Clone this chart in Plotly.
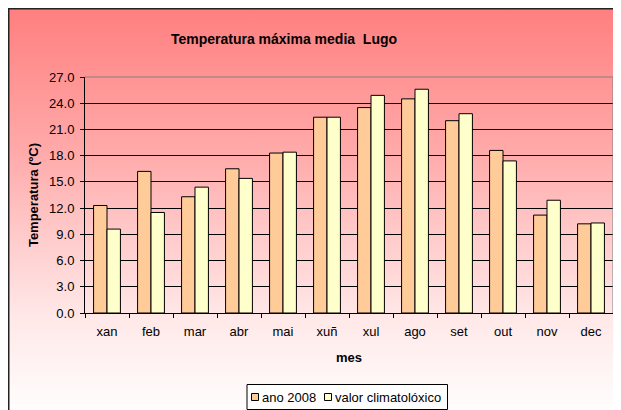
import base64
import plotly.graph_objects as go

meses = ["xan", "feb", "mar", "abr", "mai", "xuñ", "xul", "ago", "set", "out", "nov", "dec"]
ano_2008 = [12.3, 16.2, 13.3, 16.5, 18.3, 22.4, 23.5, 24.5, 22.0, 18.6, 11.2, 10.2]
valor_climatoloxico = [9.6, 11.5, 14.4, 15.4, 18.4, 22.4, 24.9, 25.6, 22.8, 17.4, 12.9, 10.3]
y_ticks = [0, 3, 6, 9, 12, 15, 18, 21, 24, 27]
series_names = ["ano 2008", "valor climatolóxico"]
series_colors = ["#FFCC99", "#FFFFCC"]

# the page body has an 8px margin, so the figure is the chart area itself
W, H = 613, 402
L, R, T, B = 77, 8, 69, 97
PW, PH = W - L - R, H - T - B

def px_x(px):
    return (px - L) / PW

def px_y(py):
    return (H - B - py) / PH

FONT = "Liberation Sans, Arial, sans-serif"

fig = go.Figure()
for name, vals, col in zip(series_names, [ano_2008, valor_climatoloxico], series_colors):
    fig.add_trace(go.Bar(
        x=meses, y=vals, name=name,
        marker=dict(color=col, line=dict(color="#000000", width=1)),
    ))

svg = (
    '<svg xmlns="http://www.w3.org/2000/svg" width="100" height="100" viewBox="0 0 100 100" preserveAspectRatio="none">'
    '<defs><linearGradient id="g" x1="0" y1="0" x2="0" y2="1">'
    '<stop offset="0" stop-color="#FF7F7F"/>'
    '<stop offset="0.35" stop-color="#FFAAAA"/>'
    '<stop offset="0.55" stop-color="#FFCACA"/>'
    '<stop offset="0.75" stop-color="#FFE8E8"/>'
    '<stop offset="0.92" stop-color="#FFF8F8"/>'
    '<stop offset="1" stop-color="#FFFFFF"/>'
    '</linearGradient></defs>'
    '<rect x="0" y="0" width="100" height="100" fill="url(#g)"/></svg>'
)
src = "data:image/svg+xml;base64," + base64.b64encode(svg.encode()).decode()

fig.add_layout_image(dict(
    source=src, xref="paper", yref="paper",
    x=px_x(0), y=px_y(0), sizex=W / PW, sizey=(H + 10) / PH,
    xanchor="left", yanchor="top", sizing="stretch", layer="below",
))

shapes = [
    # chart frame (top and left edges visible)
    dict(type="line", xref="paper", yref="paper", x0=px_x(0), x1=px_x(W), y0=px_y(0.75), y1=px_y(0.75),
         line=dict(color="#222222", width=1.5), layer="above"),
    dict(type="line", xref="paper", yref="paper", x0=px_x(0.75), x1=px_x(0.75), y0=px_y(0), y1=px_y(H),
         line=dict(color="#222222", width=1.5), layer="above"),
    # plot area border top / right
    dict(type="line", xref="paper", yref="paper", x0=0, x1=1, y0=1, y1=1,
         line=dict(color="#808080", width=1), layer="above"),
    dict(type="line", xref="paper", yref="paper", x0=1, x1=1, y0=0, y1=1,
         line=dict(color="#808080", width=1), layer="above"),
    # legend box
    dict(type="rect", xref="paper", yref="paper", x0=px_x(239), x1=px_x(439.5), y0=px_y(376.5), y1=px_y(401.5),
         line=dict(color="#000000", width=1), fillcolor="#FFFFFF", layer="above"),
]
annotations = []
leg_sq_x = [243, 316]
leg_txt_x = [252, 325]
for name, col, sx, tx in zip(series_names, series_colors, leg_sq_x, leg_txt_x):
    shapes.append(dict(type="rect", xref="paper", yref="paper",
                       x0=px_x(sx + 0.5), x1=px_x(sx + 7.5), y0=px_y(385.5), y1=px_y(392.5),
                       line=dict(color="#000000", width=1), fillcolor=col, layer="above"))
    annotations.append(dict(text=name, xref="paper", yref="paper", x=px_x(tx), y=px_y(389),
                            xanchor="left", yanchor="middle", showarrow=False,
                            font=dict(size=13, family=FONT, color="#000000")))

fig.update_layout(
    width=W, height=H,
    margin=dict(l=L, r=R, t=T, b=B, pad=0, autoexpand=False),
    paper_bgcolor="#FFFFFF",
    plot_bgcolor="rgba(0,0,0,0)",
    barmode="group", bargap=0.39, bargroupgap=0,
    showlegend=False,
    font=dict(family=FONT, size=13, color="#000000"),
    title=dict(text="<b>Temperatura máxima media  Lugo</b>", x=276 / W, xanchor="center",
               y=(H - 31) / H, yanchor="middle", font=dict(size=14, family=FONT)),
    shapes=shapes,
    annotations=annotations,
    xaxis=dict(
        title=dict(text="<b>mes</b>", font=dict(size=13), standoff=15),
        showline=True, linecolor="#000000", linewidth=1,
        ticks="outside", ticklen=4, tickcolor="#000000", tickson="boundaries",
        showgrid=False, ticklabelstandoff=6, automargin=False,
    ),
    yaxis=dict(
        title=dict(text="<b>Temperatura (ºC)</b>", font=dict(size=13), standoff=7),
        range=[0, 27], tickvals=y_ticks, tickformat=".1f",
        showline=True, linecolor="#000000", linewidth=1,
        ticks="outside", ticklen=4, tickcolor="#000000", ticklabelstandoff=3,
        showgrid=True, gridcolor="#000000", gridwidth=1, zeroline=False,
        automargin=False,
    ),
)

fig.write_html("out.html")
